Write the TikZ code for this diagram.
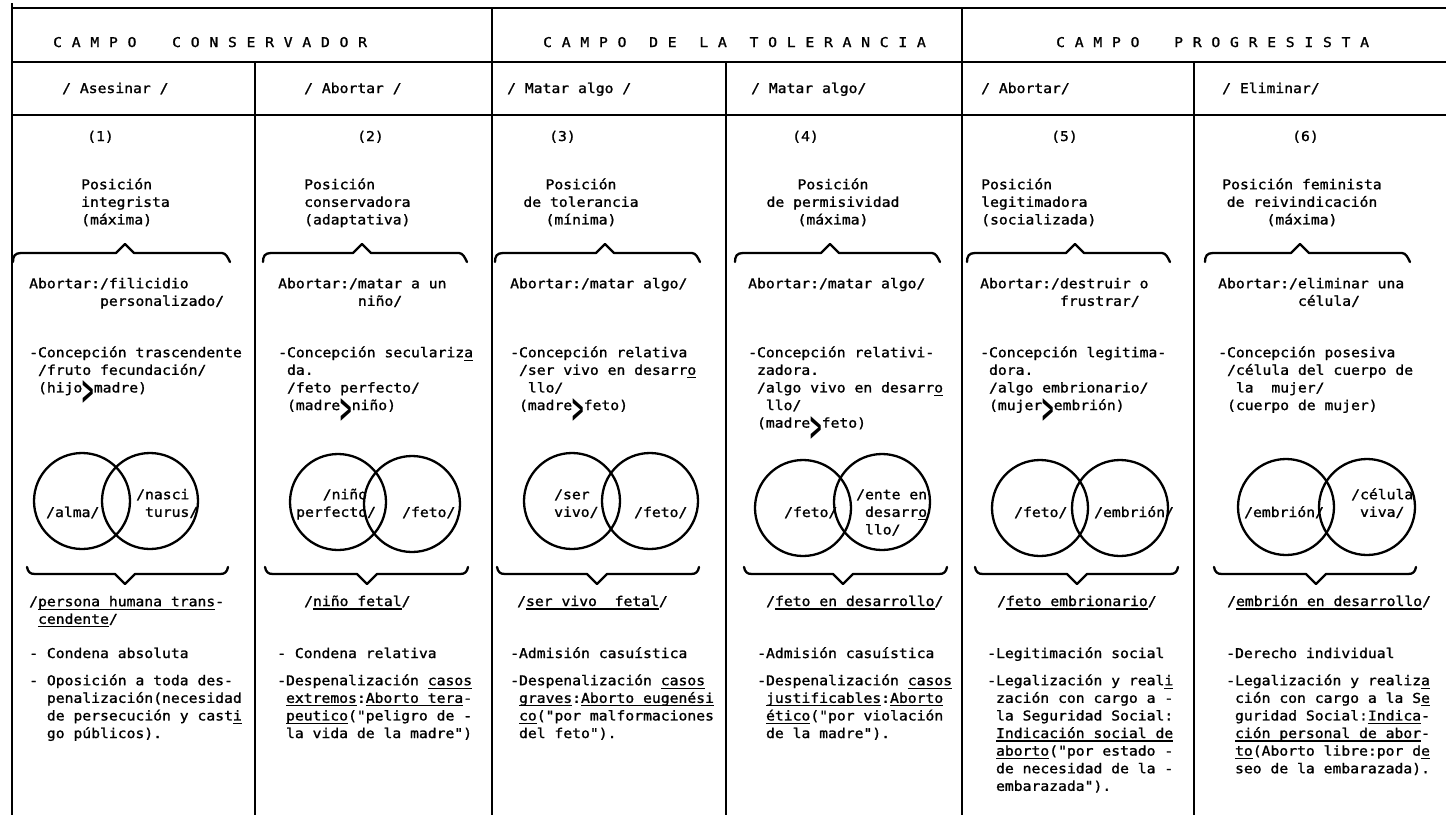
\documentclass[tikz,border=0pt]{standalone}
\usepackage{fontspec}
\newfontfamily\tw[FakeStretch=1.09,FakeBold=1.3]{DejaVu Sans Mono}
\newfontfamily\djs{DejaVu Sans}
\newlength\cw
\newsavebox\ulbox
\newcommand\ul[1]{\sbox\ulbox{#1}\rlap{\rule[-3.6pt]{\wd\ulbox}{1.3pt}}\usebox\ulbox}
\newcommand\ind[1]{\hspace*{#1\cw}}
\newcommand\gt{\makebox[1.3\cw][c]{\raisebox{-12.5pt}[0pt][0pt]{\scalebox{0.8}[2.0]{\fontsize{20}{20}\selectfont\djs\bfseries >}}}}
\def\spc#1{\ifx\relax#1\else\makebox[18.6pt][l]{#1}\expandafter\spc\fi}
\newcommand\twfont{\tw\fontsize{13.5}{17.6}\selectfont}
\newcommand\topbrace[4]{%
 \draw[brace] (#1,#4+9) .. controls (#1,#4+3) and (#1+2,#4) .. (#1+8,#4) -- (#3-9,#4) -- (#3,#4-9) -- (#3+9,#4) -- (#2-8,#4) .. controls (#2-4,#4) and (#2-2,#4+5) .. (#2,#4+9);}
\newcommand\botbrace[4]{%
 \draw[brace] (#1,#4-7) .. controls (#1+1,#4-2) and (#1+3,#4) .. (#1+8,#4) -- (#3-10,#4) -- (#3,#4+10) -- (#3+10,#4) -- (#2-8,#4) .. controls (#2-3,#4) and (#2-1,#4-2) .. (#2,#4-7);}
\tikzset{
 gridline/.style={line width=1.8pt},
 venn/.style={circle, draw, line width=2.3pt, minimum size=96pt, inner sep=0pt},
 brace/.style={line width=2.3pt, line join=round, line cap=round},
 tl/.style={anchor=base west, inner sep=0pt, font=\twfont},
 tb/.style={anchor=north west, inner sep=0pt, align=left, font=\twfont},
 tc/.style={anchor=north, inner sep=0pt, align=center, font=\twfont},
}
\begin{document}
\settowidth\cw{\twfont 0}
\begin{tikzpicture}[x=1pt,y=-1pt]
\useasboundingbox (0,0) rectangle (1446,815);
\fill[white] (0,0) rectangle (1446,815);
% grid
\draw[gridline] (12,8) -- (1446,8);
\draw[gridline] (12,62) -- (1446,62);
\draw[gridline] (12,115) -- (1446,115);
\draw[gridline] (12,3) -- (12,815);
\draw[gridline] (255,62) -- (255,815);
\draw[gridline] (492,8) -- (492,815);
\draw[gridline] (726,62) -- (726,815);
\draw[gridline] (962,8) -- (962,815);
\draw[gridline] (1194,62) -- (1194,815);
% headers
\node[tl] (h1) at (53,47) {\spc CAMPO\relax\hspace{26pt}\spc CONSERVADOR\relax};
\node[tl] (h2) at (543,47) {\spc CAMPO\relax\hspace{13pt}\spc DE\relax\hspace{13pt}\spc LA\relax\hspace{13pt}\spc TOLERANCIA\relax};
\node[tl] (h3) at (1056,47) {\spc CAMPO\relax\hspace{25pt}\spc PROGRESISTA\relax};
% verbs
\node[tl] (v1) at (62,93) {/ Asesinar /};
\node[tl] (v2) at (304,93) {/ Abortar /};
\node[tl] (v3) at (507,93) {/ Matar algo /};
\node[tl] (v4) at (751,93) {/ Matar algo/};
\node[tl] (v5) at (981,93) {/ Abortar/};
\node[tl] (v6) at (1222,93) {/ Eliminar/};
% numbers
\node[tl] (n1) at (87,141) {(1)};
\node[tl] (n2) at (357,141) {(2)};
\node[tl] (n3) at (549,141) {(3)};
\node[tl] (n4) at (792,141) {(4)};
\node[tl] (n5) at (1051,141) {(5)};
\node[tl] (n6) at (1292,141) {(6)};
% positions
\node[tb] (p1) at (81,176.7) {\strut Posición\\integrista\\(máxima)};
\node[tb] (p2) at (304,176.7) {\strut Posición\\conservadora\\(adaptativa)};
\node[tc] (p3) at (581,176.7) {\strut Posición\\de tolerancia\\(mínima)};
\node[tc] (p4) at (833,176.7) {\strut Posición\\de permisividad\\(máxima)};
\node[tb] (p5) at (981,176.7) {\strut Posición\\legitimadora\\(socializada)};
\node[tc] (p6) at (1302,176.7) {\strut Posición feminista\\de reivindicación\\(máxima)};
% top braces
\topbrace{13}{230}{125}{253}
\topbrace{263}{467}{362}{253}
\topbrace{495}{700}{605}{253}
\topbrace{735}{940}{830}{253}
\topbrace{967}{1170}{1075}{253}
\topbrace{1205}{1410}{1300}{253}
% abortar
\node[tb] (a1) at (29,275.7) {\strut Abortar:/filicidio\\\ind{8}personalizado/};
\node[tb] (a2) at (278,275.7) {\strut Abortar:/matar a un\\\ind{9}niño/};
\node[tb] (a3) at (510,275.7) {\strut Abortar:/matar algo/};
\node[tb] (a4) at (748,275.7) {\strut Abortar:/matar algo/};
\node[tb] (a5) at (980,275.7) {\strut Abortar:/destruir o\\\ind{9}frustrar/};
\node[tb] (a6) at (1218,275.7) {\strut Abortar:/eliminar una\\\ind{9}célula/};
% concepcion
\node[tb] (c1) at (29,344.7) {\strut -Concepción trascendente\\\ind{1}/fruto fecundación/\\\ind{1}(hijo\gt madre)};
\node[tb] (c2) at (278,344.7) {\strut -Concepción seculariz\ul{a}\\\ind{1}da.\\\ind{1}/feto perfecto/\\\ind{1}(madre\gt niño)};
\node[tb] (c3) at (510,344.7) {\strut -Concepción relativa\\\ind{1}/ser vivo en desarr\ul{o}\\\ind{2}llo/\\\ind{1}(madre\gt feto)};
\node[tb] (c4) at (748,344.7) {\strut -Concepción relativi-\\\ind{1}zadora.\\\ind{1}/algo vivo en desarr\ul{o}\\\ind{2}llo/\\\ind{1}(madre\gt feto)};
\node[tb] (c5) at (980,344.7) {\strut -Concepción legitima-\\\ind{1}dora.\\\ind{1}/algo embrionario/\\\ind{1}(mujer\gt embrión)};
\node[tb] (c6) at (1218,344.7) {\strut -Concepción posesiva\\\ind{1}/célula del cuerpo de\\\ind{2}la\ \ mujer/\\\ind{1}(cuerpo de mujer)};
% venn circles
\node[venn] (o1a) at (82,501) {};
\node[venn] (o1b) at (150,501) {};
\node[venn] (o2a) at (338,502) {};
\node[venn] (o2b) at (412,504) {};
\node[venn] (o3a) at (572,501) {};
\node[venn] (o3b) at (650,501) {};
\node[venn] (o4a) at (803,508) {};
\node[venn] (o4b) at (882,502) {};
\node[venn] (o5a) at (1040,508) {};
\node[venn] (o5b) at (1120,508) {};
\node[venn] (o6a) at (1286,507) {};
\node[venn] (o6b) at (1367,507) {};
% venn labels
\node[tl] (l1a) at (46,517) {/alma/};
\node[tb] (l1b) at (136,486.7) {\strut /nasci\\\ind{1}turus/};
\node[tb] (l2a) at (296,486.7) {\strut\ind{3}/niño\\perfecto/};
\node[tl] (l2b) at (402,517) {/feto/};
\node[tb] (l3a) at (554,486.7) {\strut /ser\\vivo/};
\node[tl] (l3b) at (634,517) {/feto/};
\node[tl] (l4a) at (784,517) {/feto/};
\node[tb] (l4b) at (856,486.7) {\strut /ente en\\\ind{1}desarr\ul{o}\\\ind{1}llo/};
\node[tl] (l5a) at (1014,517) {/feto/};
\node[tl] (l5b) at (1094,517) {/embrión/};
\node[tl] (l6a) at (1244,517) {/embrión/};
\node[tb] (l6b) at (1351,486.7) {\strut /célula\\\ind{1}viva/};
% bottom braces
\botbrace{27}{228}{125}{574}
\botbrace{265}{468}{367}{574}
\botbrace{497}{699}{597}{574}
\botbrace{744}{947}{843}{574}
\botbrace{975}{1178}{1077}{574}
\botbrace{1214}{1416}{1316}{574}
% results
\node[tb] (r1) at (29,593.7) {\strut /\ul{persona humana trans}-\\\ind{1}\ul{cendente}/};
\node[tl] (r2) at (304,606) {/\ul{niño fetal}/};
\node[tl] (r3) at (517,606) {/\ul{ser vivo\ \ fetal}/};
\node[tl] (r4) at (766,606) {/\ul{feto en desarrollo}/};
\node[tl] (r5) at (997,606) {/\ul{feto embrionario}/};
\node[tl] (r6) at (1227,606) {/\ul{embrión en desarrollo}/};
% bottom first lines
\node[tl] (s1) at (29,658) {- Condena absoluta};
\node[tl] (s2) at (277,658) {- Condena relativa};
\node[tl] (s3) at (510,658) {-Admisión casuística};
\node[tl] (s4) at (757,658) {-Admisión casuística};
\node[tl] (s5) at (987,658) {-Legitimación social};
\node[tl] (s6) at (1226,658) {-Derecho individual};
% bottom blocks
\node[tb] (t1) at (29,672.7) {\strut - Oposición a toda des-\\\ind{2}penalización(necesidad\\\ind{2}de persecución y cast\ul{i}\\\ind{2}go públicos).};
\node[tb] (t2) at (277,672.7) {\strut -Despenalización \ul{casos}\\\ind{1}\ul{extremos}:\ul{Aborto tera}-\\\ind{1}\ul{peutico}("peligro de -\\\ind{1}la vida de la madre")};
\node[tb] (t3) at (510,672.7) {\strut -Despenalización \ul{casos}\\\ind{1}\ul{graves}:\ul{Aborto eugenési}\\\ind{1}\ul{co}("por malformaciones\\\ind{1}del feto").};
\node[tb] (t4) at (757,672.7) {\strut -Despenalización \ul{casos}\\\ind{1}\ul{justificables}:\ul{Aborto}\\\ind{1}\ul{ético}("por violación\\\ind{1}de la madre").};
\node[tb] (t5) at (987,672.7) {\strut -Legalización y real\ul{i}\\\ind{1}zación con cargo a -\\\ind{1}la Seguridad Social:\\\ind{1}\ul{Indicación social de}\\\ind{1}\ul{aborto}("por estado -\\\ind{1}de necesidad de la -\\\ind{1}embarazada").};
\node[tb] (t6) at (1226,672.7) {\strut -Legalización y realiz\ul{a}\\\ind{1}ción con cargo a la S\ul{e}\\\ind{1}guridad Social:\ul{Indica}-\\\ind{1}\ul{ción personal de abor}-\\\ind{1}\ul{to}(Aborto libre:por d\ul{e}\\\ind{1}seo de la embarazada).};
\end{tikzpicture}
\end{document}
